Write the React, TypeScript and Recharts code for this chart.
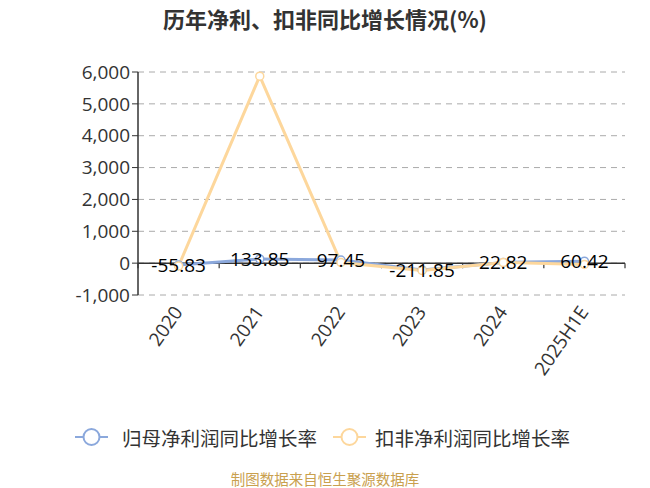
import { LineChart, Line, XAxis, YAxis, CartesianGrid, ReferenceLine, LabelList } from "recharts";

const categories = ["2020", "2021", "2022", "2023", "2024", "2025H1E"];
const netGrowth = [-55.83, 133.85, 97.45, -211.85, 22.82, 60.42];
const deductedGrowth = [-90, 5870, 20, -230, 20, -40];
const yTicks = [-1000, 0, 1000, 2000, 3000, 4000, 5000, 6000];

const BLUE = "#8ba8dc";
const YELLOW = "#fdd79c";
const FONT = "'Open Sans', 'Noto Sans CJK SC', sans-serif";
const CJK = "'Noto Sans CJK SC', sans-serif";

// numeric x so that category boundaries can carry the small ticks
const data = categories.map((c, i) => ({
  idx: i + 0.5,
  name: c,
  net: netGrowth[i],
  deducted: deductedGrowth[i],
}));

const CenterLabel = (props: any) => {
  const { x, y, value } = props;
  return (
    <text x={x} y={y} dy="0.35em" textAnchor="middle" fontSize={19} fill="#000" fontFamily={FONT}>
      {value}
    </text>
  );
};

const XTick = (props: any) => {
  const { x, y, payload } = props;
  const label = categories[Math.round(payload.value - 0.5)];
  return (
    <text
      x={x + 5}
      y={y + 9}
      textAnchor="end"
      fontSize={19}
      fill="#333"
      fontFamily={FONT}
      transform={`rotate(-55, ${x + 5}, ${y + 9})`}
    >
      {label}
    </text>
  );
};

const LegendIcon = ({ color }: { color: string }) => (
  <svg width={33} height={22} style={{ verticalAlign: "middle", display: "block" }}>
    <line x1={0} y1={11} x2={33} y2={11} stroke={color} strokeWidth={2} />
    <circle cx={16.5} cy={11} r={8} fill="#fff" stroke={color} strokeWidth={2} />
  </svg>
);

export default function App() {
  const boundaries = [0, 1, 2, 3, 4, 5, 6];
  return (
    <div style={{ position: "absolute", left: 0, top: 0, width: 650, height: 488, background: "#fff", fontFamily: FONT }}>
      <div
        style={{
          position: "absolute",
          top: 2,
          left: 0,
          width: 650,
          textAlign: "center",
          fontSize: 22,
          fontWeight: "bold",
          color: "#333",
          fontFamily: CJK,
        }}
      >
        历年净利、扣非同比增长情况(%)
      </div>
      <LineChart width={650} height={488} data={data} margin={{ top: 72, right: 25, left: 68, bottom: 0 }}>
        <CartesianGrid vertical={false} strokeDasharray="6 5" stroke="#aaa" />
        <XAxis
          type="number"
          dataKey="idx"
          domain={[0, 6]}
          ticks={[0.5, 1.5, 2.5, 3.5, 4.5, 5.5]}
          axisLine={false}
          tickLine={false}
          tick={<XTick />}
          height={193}
          interval={0}
        />
        <YAxis
          domain={[-1000, 6000]}
          ticks={yTicks}
          width={70}
          axisLine={{ stroke: "#333", strokeWidth: 1.5 }}
          tickLine={{ stroke: "#333" }}
          tickSize={6}
          tick={{ fontSize: 19, fill: "#333", fontFamily: FONT }}
          tickFormatter={(v: number) => v.toLocaleString("en-US")}
          interval={0}
        />
        <ReferenceLine y={0} stroke="#333" strokeWidth={1.5} />
        {boundaries.map((b) => (
          <ReferenceLine
            key={b}
            segment={[
              { x: b, y: 0 },
              { x: b, y: -160 },
            ]}
            stroke="#333"
            strokeWidth={1.2}
          />
        ))}
        <Line
          dataKey="net"
          stroke={BLUE}
          strokeWidth={3}
          dot={{ r: 4, fill: "#fff", stroke: BLUE, strokeWidth: 1.5 }}
          isAnimationActive={false}
        />
        <Line
          dataKey="deducted"
          stroke={YELLOW}
          strokeWidth={3}
          dot={{ r: 4, fill: "#fff", stroke: YELLOW, strokeWidth: 1.5 }}
          isAnimationActive={false}
        />
        <Line dataKey="net" stroke="none" dot={false} activeDot={false} isAnimationActive={false}>
          <LabelList dataKey="net" content={<CenterLabel />} />
        </Line>
      </LineChart>
      <div
        style={{
          position: "absolute",
          top: 424,
          left: 75,
          fontSize: 19.5,
          color: "#333",
          fontFamily: CJK,
          whiteSpace: "nowrap",
          display: "flex",
          alignItems: "center",
          height: 26,
        }}
      >
        <LegendIcon color={BLUE} />
        <span style={{ marginLeft: 14 }}>归母净利润同比增长率</span>
        <span style={{ marginLeft: 16 }}>
          <LegendIcon color={YELLOW} />
        </span>
        <span style={{ marginLeft: 9 }}>扣非净利润同比增长率</span>
      </div>
      <div
        style={{
          position: "absolute",
          top: 470,
          left: 0,
          width: 650,
          textAlign: "center",
          fontSize: 14.5,
          lineHeight: "17px",
          color: "#c9a04e",
          fontFamily: CJK,
        }}
      >
        制图数据来自恒生聚源数据库
      </div>
    </div>
  );
}
